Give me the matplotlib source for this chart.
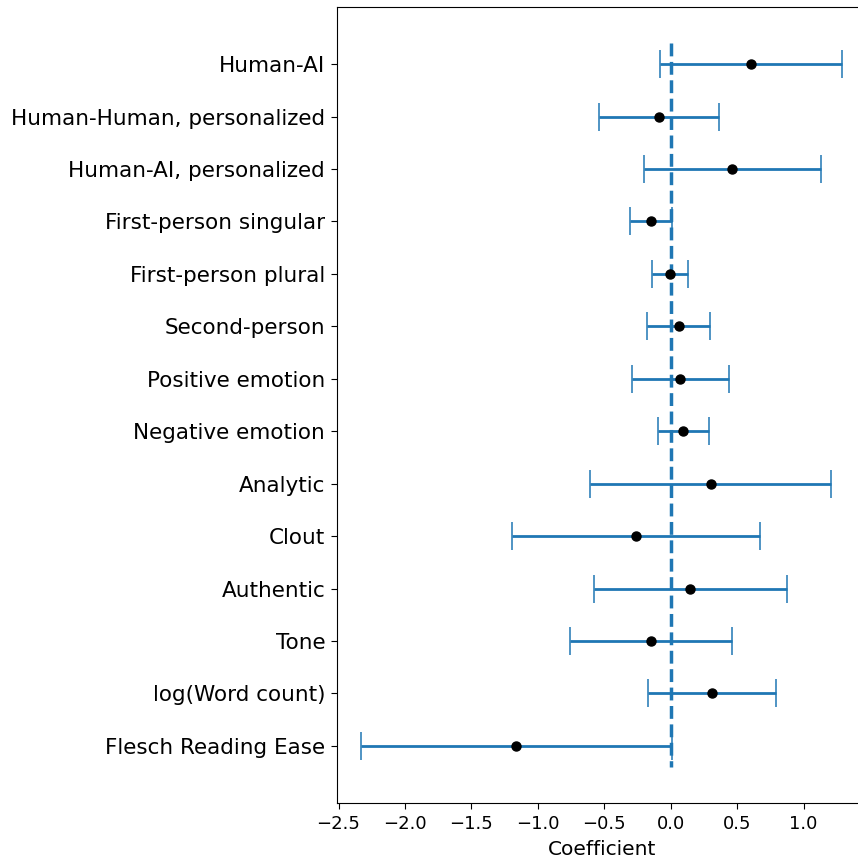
import matplotlib
matplotlib.use("Agg")
import matplotlib.pyplot as plt
import numpy as np

labels = ["Human-AI", "Human-Human, personalized", "Human-AI, personalized",
          "First-person singular", "First-person plural", "Second-person",
          "Positive emotion", "Negative emotion", "Analytic", "Clout",
          "Authentic", "Tone", "log(Word count)", "Flesch Reading Ease"]
coef = [0.606, -0.090, 0.465, -0.151, -0.005, 0.060, 0.074, 0.093, 0.300,
        -0.262, 0.147, -0.148, 0.312, -1.161]
ci_low = [-0.080, -0.543, -0.202, -0.308, -0.138, -0.176, -0.290, -0.098,
          -0.607, -1.195, -0.579, -0.761, -0.171, -2.330]
ci_high = [1.293, 0.364, 1.129, 0.007, 0.128, 0.295, 0.439, 0.285,
           1.209, 0.675, 0.873, 0.465, 0.794, 0.008]

fig = plt.figure(figsize=(8.58, 8.65), dpi=100)
ax = fig.add_axes([0.3928, 0.0717, 0.6171, 0.9202])

y = np.arange(len(labels))
coef_a = np.array(coef)
xerr = np.vstack([coef_a - np.array(ci_low), np.array(ci_high) - coef_a])
ax.errorbar(coef_a, y, xerr=xerr, fmt='none', ecolor='C0', elinewidth=2,
            capsize=10, capthick=1.1)
ax.plot(coef_a, y, 'o', color='black', markersize=6.5, zorder=3)
ax.vlines(0, -0.4, len(labels) - 0.6, linestyles='--', colors='C0', linewidth=2.5)

ax.set_yticks(y)
ax.set_yticklabels(labels, fontsize=15.5)
ax.invert_yaxis()
ax.tick_params(axis='both', length=4.2, pad=4.3)
ax.tick_params(axis='x', labelsize=13)
ax.set_xlabel("Coefficient", fontsize=14.5, labelpad=5)

fig.savefig("out.png", dpi=100)
